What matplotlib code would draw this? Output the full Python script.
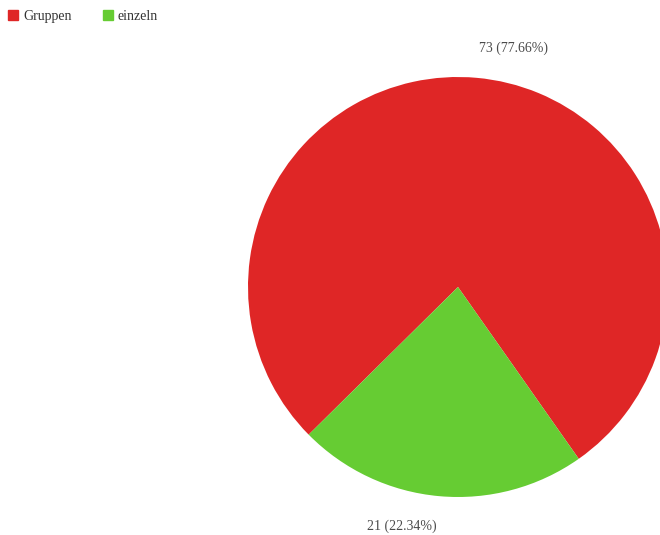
import numpy as np
import matplotlib
matplotlib.use("Agg")
import matplotlib.pyplot as plt
from matplotlib.lines import Line2D

categories = ["Gruppen", "einzeln"]
counts = [73, 21]
colors = ["#DF2626", "#66CC33"]

W, H = 660, 535
fig = plt.figure(figsize=(W / 100, H / 100), dpi=100)
ax = fig.add_axes([0, 0, 1, 1])

center = (458, H - 287)
radius = 210
start = -54.9

total = sum(counts)
wedges, _ = ax.pie(counts, colors=colors, center=center, radius=radius,
                   startangle=start, counterclock=True,
                   wedgeprops=dict(linewidth=0), frame=True)
ax.set_xlim(0, W)
ax.set_ylim(0, H)
ax.set_aspect("equal")
ax.axis("off")

# value labels outside each slice, at the slice's mid-angle
label_r = 240
for w, c in zip(wedges, counts):
    mid = np.deg2rad((w.theta1 + w.theta2) / 2)
    x = center[0] + label_r * np.cos(mid)
    y = center[1] + label_r * np.sin(mid)
    ha = "left" if np.cos(mid) >= 0 else "right"
    ax.text(x, y, f"{c} ({c / total * 100:.2f}%)", ha=ha, va="center",
            fontsize=10, family="Liberation Serif", color="#4a4a4a")

handles = [Line2D([], [], marker="s", linestyle="none", markersize=6.5,
                  markerfacecolor=col, markeredgecolor=col) for col in colors]
fig.legend(handles, categories, loc="upper left", bbox_to_anchor=(-0.002, 0.998),
           ncol=2, frameon=False, prop=dict(family="Liberation Serif", size=10),
           handlelength=0.8, handletextpad=0.3, columnspacing=2.2,
           borderaxespad=0.25, labelcolor="#333333")

fig.savefig("out.png", dpi=100)
